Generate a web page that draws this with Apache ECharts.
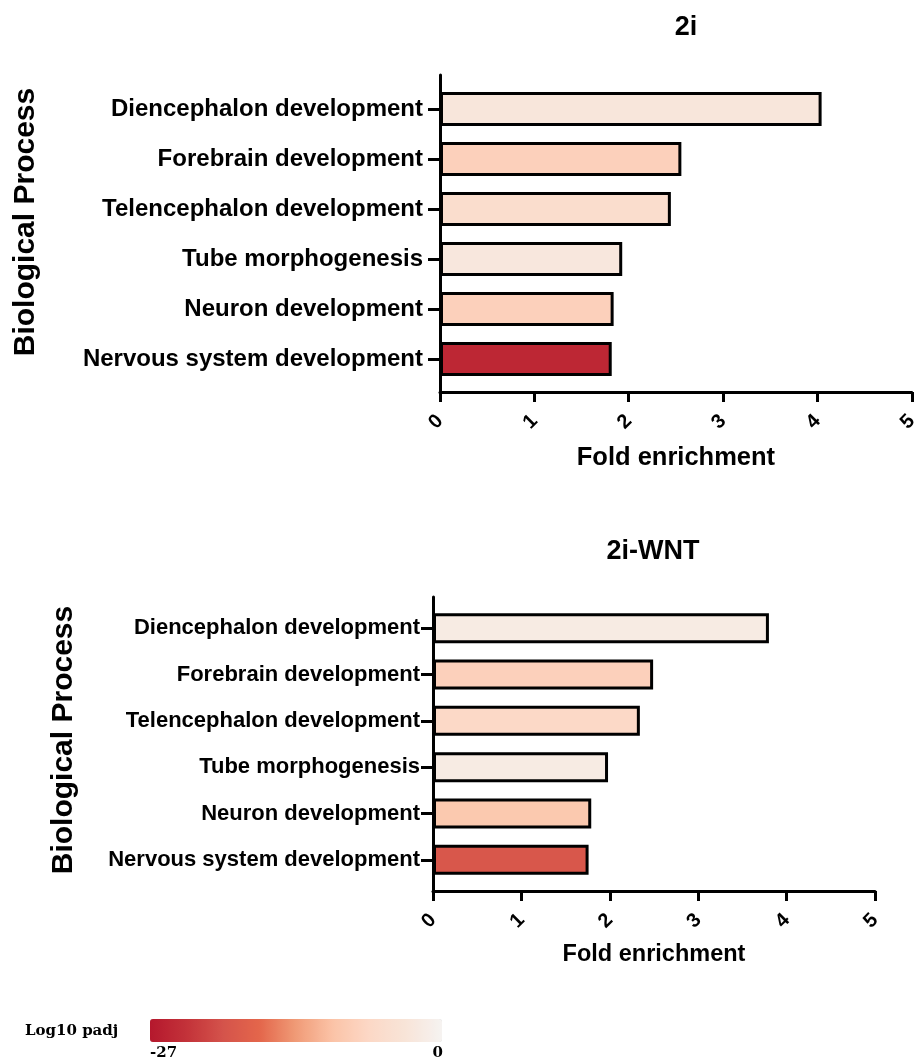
<!DOCTYPE html>
<html>
<head>
<meta charset="utf-8">
<script src="https://cdn.jsdelivr.net/npm/echarts@6/dist/echarts.min.js"></script>
<style>
  html, body { margin: 0; padding: 0; background: #fff; }
  #chart { width: 921px; height: 1063px; }
</style>
</head>
<body>
<div id="chart"></div>
<script>
// GO biological process terms, top to bottom
const categories = [
  'Diencephalon development',
  'Forebrain development',
  'Telencephalon development',
  'Tube morphogenesis',
  'Neuron development',
  'Nervous system development'
];
// 2i condition: fold enrichment and log10 adjusted p-value
const fold2i = [4.00, 2.53, 2.42, 1.91, 1.82, 1.80];
const padj2i = [-3.0, -8.0, -5.4, -2.7, -8.0, -25.0];
// 2i-WNT condition
const foldWnt = [3.80, 2.49, 2.34, 1.98, 1.79, 1.76];
const padjWnt = [-1.9, -8.0, -6.5, -1.9, -9.2, -19.5];
// fold-enrichment axis range
const foldMin = 0, foldMax = 5, foldStep = 1;
// colour scale range for log10 padj
const padjMin = -27, padjMax = 0;

const FONT = "'Liberation Sans', Arial, sans-serif";
const SERIF = "'DejaVu Serif', 'Liberation Serif', serif";

function rows(fold, padj) {
  return categories.map((c, i) => [fold[i], c, padj[i]]);
}

// one panel = a bar grid (category axis) + a frame grid (axis lines, fold ticks)
function panelGrids(p) {
  return [
    { left: p.left, width: p.width, top: p.barTop, height: p.barHeight },
    { left: p.left, width: p.width, top: p.frameTop, height: p.frameHeight }
  ];
}

const panelA = { left: 440, width: 477, barTop: 84, barHeight: 300, frameTop: 75, frameHeight: 317,
  labelSize: 24, labelMargin: 17, nameSize: 25.5, nameGap: 53, barWidth: 34 };
const panelB = { left: 433, width: 442, barTop: 605, barHeight: 278, frameTop: 597, frameHeight: 294,
  labelSize: 22, labelMargin: 13, nameSize: 23.5, nameGap: 52, barWidth: 30 };

const grids = [...panelGrids(panelA), ...panelGrids(panelB)];

function hiddenX(gridIndex) {
  return { type: 'value', gridIndex, min: foldMin, max: foldMax, interval: foldStep, show: false };
}
function frameX(gridIndex, p) {
  return {
    type: 'value', gridIndex, min: foldMin, max: foldMax, interval: foldStep,
    name: 'Fold enrichment', nameLocation: 'middle', nameGap: p.nameGap, nameMoveOverlap: false,
    nameTextStyle: { fontFamily: FONT, fontWeight: 'bold', fontSize: p.nameSize, color: '#000' },
    axisLine: { show: true, onZero: false, lineStyle: { color: '#000', width: 3 } },
    axisTick: { show: true, length: 10, lineStyle: { color: '#000', width: 3 } },
    axisLabel: { rotate: 45, margin: 26, fontFamily: FONT, fontWeight: 'bold', fontSize: 20, color: '#000' },
    splitLine: { show: false }
  };
}
function catY(gridIndex, p) {
  return {
    type: 'category', gridIndex, data: categories, inverse: true,
    axisLine: { show: false },
    axisTick: { show: true, alignWithLabel: true, length: 12, lineStyle: { color: '#000', width: 3 } },
    axisLabel: { margin: p.labelMargin, fontFamily: FONT, fontWeight: 'bold', fontSize: p.labelSize, color: '#000' }
  };
}
function frameY(gridIndex) {
  return {
    type: 'value', gridIndex, min: 0, max: 1,
    axisLine: { show: true, onZero: false, lineStyle: { color: '#000', width: 3 } },
    axisTick: { show: false }, axisLabel: { show: false }, splitLine: { show: false }
  };
}

const padjColors = ['#b5182d', '#c33239', '#d4534b', '#e4664b', '#f09b77',
                    '#fbc3a7', '#fcd8c6', '#f8e4d8', '#f6f3f1'];

function barSeries(xi, yi, fold, padj, p) {
  return {
    type: 'bar', xAxisIndex: xi, yAxisIndex: yi,
    data: rows(fold, padj), encode: { x: 0, y: 1 },
    barWidth: p.barWidth,
    itemStyle: { borderColor: '#000', borderWidth: 3 },
    silent: true
  };
}

function text(str, x, y, font, align, extra) {
  return Object.assign({
    type: 'text', x, y, silent: true,
    style: { text: str, font, fill: '#000', textAlign: align, verticalAlign: 'middle' }
  }, extra || {});
}

const option = {
  animation: false,
  grid: grids,
  xAxis: [hiddenX(0), frameX(1, panelA), hiddenX(2), frameX(3, panelB)],
  yAxis: [catY(0, panelA), frameY(1), catY(2, panelB), frameY(3)],
  visualMap: {
    type: 'continuous', show: true, orient: 'horizontal',
    min: padjMin, max: padjMax, dimension: 2, seriesIndex: [0, 1],
    left: 150, top: 1019, padding: 0,
    itemWidth: 23, itemHeight: 292,
    calculable: false, showLabel: false,
    inRange: { color: padjColors }
  },
  series: [
    barSeries(0, 0, fold2i, padj2i, panelA),
    barSeries(2, 2, foldWnt, padjWnt, panelB)
  ],
  graphic: [
    text('2i', 686, 28, `bold 27px ${FONT}`, 'center'),
    text('2i-WNT', 653, 552, `bold 27px ${FONT}`, 'center'),
    text('Biological Process', 26, 222, `bold 30px ${FONT}`, 'center', { rotation: Math.PI / 2 }),
    text('Biological Process', 64, 740, `bold 30px ${FONT}`, 'center', { rotation: Math.PI / 2 }),
    text('Log10 padj', 25, 1031, `bold 15px ${SERIF}`, 'left'),
    text(String(padjMin), 150, 1053, `bold 15px ${SERIF}`, 'left'),
    text(String(padjMax), 443, 1053, `bold 15px ${SERIF}`, 'right')
  ]
};

const chart = echarts.init(document.getElementById('chart'), null, { renderer: 'canvas' });
chart.setOption(option);
</script>
</body>
</html>
